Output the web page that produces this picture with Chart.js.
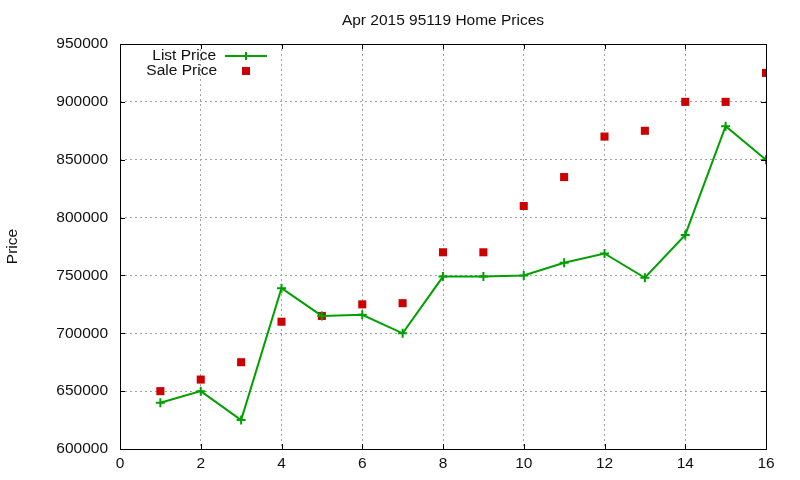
<!DOCTYPE html>
<html>
<head>
<meta charset="utf-8">
<script src="https://cdn.jsdelivr.net/npm/chart.js@4/dist/chart.umd.min.js"></script>
<style>
  html, body { margin: 0; padding: 0; background: #fff; }
  #wrap { width: 800px; height: 480px; }
</style>
</head>
<body>
<div id="wrap"><canvas id="priceChart"></canvas></div>
<script>
const months = [1, 2, 3, 4, 5, 6, 7, 8, 9, 10, 11, 12, 13, 14, 15, 16];
const listPrice = [640000, 650000, 625000, 739000, 715000, 716000, 700000, 749000,
                   749000, 750000, 761000, 769000, 748000, 785000, 879000, 850000];
const salePrice = [650000, 660000, 675000, 710000, 715000, 725000, 726000, 770000,
                   770000, 810000, 835000, 870000, 875000, 900000, 900000, 925000];
const chartTitle = "Apr 2015 95119 Home Prices";

const FONT = "Liberation Sans, Arial, sans-serif";
const GREEN = "rgb(0,160,0)";
const RED = "rgb(204,0,0)";

// gnuplot style: black frame all round, ticks pointing inward, legend top-left
const framePlugin = {
  id: "frame",
  afterDraw(chart) {
    const { ctx, chartArea: a, scales } = chart;
    ctx.save();
    ctx.strokeStyle = "#000";
    ctx.lineWidth = 1;
    ctx.strokeRect(a.left + 0.5, a.top + 0.5, a.right - a.left, a.bottom - a.top);
    ctx.beginPath();
    const t = 5;
    scales.x.ticks.forEach(tk => {
      const px = Math.round(scales.x.getPixelForValue(tk.value)) + 0.5;
      ctx.moveTo(px, a.bottom); ctx.lineTo(px, a.bottom - t);
      ctx.moveTo(px, a.top); ctx.lineTo(px, a.top + t);
    });
    scales.y.ticks.forEach(tk => {
      const py = Math.round(scales.y.getPixelForValue(tk.value)) + 0.5;
      ctx.moveTo(a.left, py); ctx.lineTo(a.left + t, py);
      ctx.moveTo(a.right, py); ctx.lineTo(a.right - t, py);
    });
    ctx.stroke();

    // title over the plot area
    ctx.font = "15.5px " + FONT;
    ctx.fillStyle = "#111";
    ctx.textAlign = "center";
    ctx.textBaseline = "middle";
    ctx.fillText(chartTitle, (a.left + a.right) / 2, 21);

    // legend
    ctx.textAlign = "right";
    ctx.fillText("List Price", 216, 56);
    ctx.fillText("Sale Price", 217, 71);
    ctx.strokeStyle = GREEN;
    ctx.lineWidth = 2;
    ctx.beginPath();
    ctx.moveTo(225, 56); ctx.lineTo(267, 56);
    ctx.moveTo(246, 52); ctx.lineTo(246, 60);
    ctx.stroke();
    ctx.fillStyle = RED;
    ctx.fillRect(242, 67, 8, 8);
    ctx.restore();
  }
};

new Chart(document.getElementById("priceChart"), {
  type: "line",
  data: {
    datasets: [
      {
        label: "List Price",
        data: months.map((m, i) => ({ x: m, y: listPrice[i] })),
        borderColor: GREEN,
        backgroundColor: GREEN,
        borderWidth: 2,
        pointStyle: "cross",
        pointRadius: 4.5,
        pointBorderWidth: 2,
        tension: 0,
        fill: false,
      },
      {
        label: "Sale Price",
        data: months.map((m, i) => ({ x: m, y: salePrice[i] })),
        showLine: false,
        borderColor: RED,
        backgroundColor: RED,
        pointStyle: "rect",
        pointRadius: 5.7,
        pointBorderWidth: 0,
      },
    ],
  },
  plugins: [framePlugin],
  options: {
    responsive: true,
    maintainAspectRatio: false,
    animation: false,
    layout: { padding: { left: 0, right: 34, top: 44, bottom: 0 } },
    plugins: {
      legend: { display: false },
      tooltip: { enabled: false },
    },
    scales: {
      x: {
        type: "linear",
        min: 0,
        max: 16,
        ticks: { stepSize: 2, padding: 5, color: "#111", font: { size: 15.5, family: FONT } },
        grid: { color: "#a0a0a0", drawTicks: false },
        border: { display: false, dash: [2, 3] },
        afterFit: s => { s.height = 31; },
      },
      y: {
        min: 600000,
        max: 950000,
        ticks: {
          stepSize: 50000,
          padding: 12,
          color: "#111",
          font: { size: 15.5, family: FONT },
          callback: v => String(v),
        },
        grid: { color: "#a0a0a0", drawTicks: false },
        border: { display: false, dash: [2, 3] },
        title: {
          display: true,
          text: "Price",
          color: "#111",
          font: { size: 15.5, family: FONT },
          padding: { top: 3, bottom: 0 },
        },
        afterFit: s => { s.width = 120; },
      },
    },
  },
});
</script>
</body>
</html>
